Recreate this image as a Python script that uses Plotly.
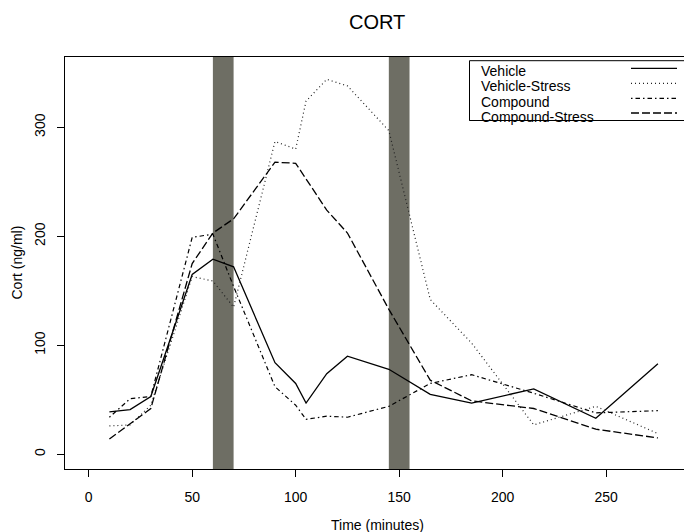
import plotly.graph_objects as go

# ---- data ----
time_min = [10, 20, 30, 50, 60, 70, 90, 100, 105, 115, 125, 145, 165, 185, 215, 245, 275]
vehicle = [39, 41, 53, 165, 179, 172, 84, 65, 47, 74, 90, 78, 55, 47, 60, 33, 83]
vehicle_stress = [26, 27, 45, 163, 159, 135, 287, 280, 324, 344, 338, 297, 142, 102, 27, 44, 19]
compound = [34, 51, 53, 199, 202, 154, 62, 45, 32, 35, 34, 44, 65, 73, 56, 38, 40]
compound_stress = [14, 28, 42, 175, 203, 216, 268, 267, 253, 224, 203, 133, 68, 49, 42, 23, 15]
series_names = ["Vehicle", "Vehicle-Stress", "Compound", "Compound-Stress"]
stress_periods = [(60, 70), (145, 155)]
x_ticks = [0, 50, 100, 150, 200, 250]
y_ticks = [0, 100, 200, 300]

# ---- layout geometry (pixels) ----
W, H = 684, 532
L, R, T, B = 65, 684, 57, 469
FONT = "Liberation Sans, Arial, Helvetica, sans-serif"


def px_x(p):
    return (p - L) / (R - L)


def px_y(p):
    return (B - p) / (B - T)


styles = [
    dict(color="black", width=1.3, dash="solid"),
    dict(color="#222222", width=1.2, dash="1px,3px"),
    dict(color="black", width=1.2, dash="1.5px,3px,4.5px,3px"),
    dict(color="black", width=1.3, dash="8px,3px"),
]
all_series = [vehicle, vehicle_stress, compound, compound_stress]

fig = go.Figure()
for name, ys, st in zip(series_names, all_series, styles):
    fig.add_trace(go.Scatter(x=time_min, y=ys, mode="lines", name=name,
                             line=st, showlegend=False))

shapes = []
for x0, x1 in stress_periods:
    shapes.append(dict(type="rect", xref="x", yref="paper", x0=x0, x1=x1, y0=0, y1=1,
                       fillcolor="#6e6e64", line=dict(width=0), layer="below"))

# custom legend box (sample lines on the right, as in the reference)
shapes.append(dict(type="rect", xref="paper", yref="paper",
                   x0=px_x(469.5), x1=px_x(700), y0=px_y(120.5), y1=px_y(60.7),
                   fillcolor="white", line=dict(color="black", width=1), layer="above"))
annotations = []
leg_text_y = [71, 86, 101.5, 116.5]
leg_line_y = [68.3, 83.3, 98.3, 113]
for name, st, ty, ly in zip(series_names, styles, leg_text_y, leg_line_y):
    annotations.append(dict(text=name, xref="paper", yref="paper", x=px_x(479), y=px_y(ty),
                            xanchor="left", yanchor="middle", showarrow=False,
                            font=dict(family=FONT, size=14, color="black")))
    shapes.append(dict(type="line", xref="paper", yref="paper",
                       x0=px_x(631), x1=px_x(677), y0=px_y(ly), y1=px_y(ly),
                       line=st, layer="above"))
# re-draw legend bottom border over the last text (as in the reference)
shapes.append(dict(type="line", xref="paper", yref="paper",
                   x0=px_x(469.5), x1=px_x(700), y0=px_y(120.5), y1=px_y(120.5),
                   line=dict(color="black", width=1), layer="above"))

annotations.append(dict(text="CORT", xref="paper", yref="paper", x=px_x(377), y=px_y(22),
                        xanchor="center", yanchor="middle", showarrow=False,
                        font=dict(family=FONT, size=20, color="black")))
annotations.append(dict(text="Time (minutes)", xref="paper", yref="paper", x=px_x(377), y=px_y(525),
                        xanchor="center", yanchor="middle", showarrow=False,
                        font=dict(family=FONT, size=14, color="black")))
annotations.append(dict(text="Cort (ng/ml)", xref="paper", yref="paper", x=px_x(16.5), y=px_y(263),
                        xanchor="center", yanchor="middle", showarrow=False, textangle=-90,
                        font=dict(family=FONT, size=14, color="black")))

fig.update_layout(
    width=W, height=H,
    margin=dict(l=L, r=W - R, t=T, b=H - B, pad=0),
    paper_bgcolor="white", plot_bgcolor="white",
    font=dict(family=FONT, size=14, color="black"),
    shapes=shapes, annotations=annotations,
    showlegend=False,
)
fig.update_xaxes(range=[-11.45, 287.6], tickmode="array", tickvals=x_ticks,
                 ticks="outside", ticklen=7, tickcolor="black", tickwidth=1,
                 showline=True, linecolor="black", linewidth=1, mirror=True,
                 showgrid=False, zeroline=False, ticklabelstandoff=8,
                 tickfont=dict(family=FONT, size=14, color="black"))
fig.update_yaxes(range=[-13.5, 364.5], tickmode="array", tickvals=y_ticks,
                 ticks="outside", ticklen=7, tickcolor="black", tickwidth=1,
                 showline=True, linecolor="black", linewidth=1, mirror=False,
                 showgrid=False, zeroline=False, tickangle=-90, ticklabelstandoff=6,
                 tickfont=dict(family=FONT, size=14, color="black"))

fig.write_html("out.html")
